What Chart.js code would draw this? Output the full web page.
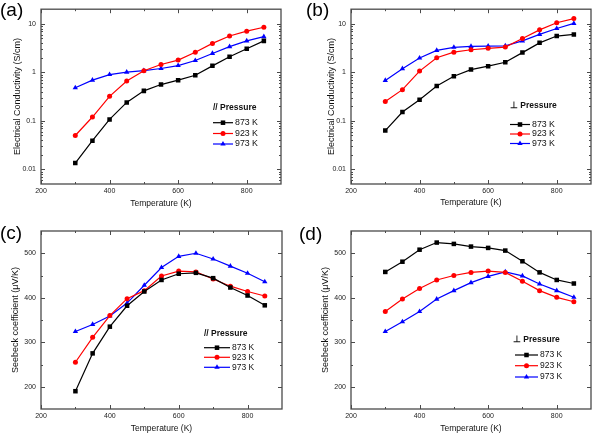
<!DOCTYPE html>
<html>
<head>
<meta charset="utf-8">
<script src="https://cdn.jsdelivr.net/npm/chart.js@4"></script>
<style>
html,body{margin:0;padding:0;background:#fff;}
#wrap{position:relative;width:595px;height:437px;overflow:hidden;background:#fff;}
canvas{position:absolute;}
.lbl{position:absolute;font-family:"Liberation Sans",Arial,sans-serif;font-size:19px;line-height:19px;color:#000;}
</style>
</head>
<body>
<div id="wrap">
  <canvas id="ca" style="left:0;top:0;width:297px;height:215px" width="297" height="215"></canvas>
  <canvas id="cb" style="left:297px;top:0;width:298px;height:215px" width="298" height="215"></canvas>
  <canvas id="cc" style="left:0;top:215px;width:297px;height:222px" width="297" height="222"></canvas>
  <canvas id="cd" style="left:297px;top:215px;width:298px;height:222px" width="298" height="222"></canvas>
  <div class="lbl" style="left:0;top:0">(a)</div>
  <div class="lbl" style="left:306px;top:0">(b)</div>
  <div class="lbl" style="left:0;top:223px">(c)</div>
  <div class="lbl" style="left:299px;top:224px">(d)</div>
</div>
<script>
// ---------------- data ----------------
const temperatures = [300, 350, 400, 450, 500, 550, 600, 650, 700, 750, 800, 850];
const seriesLabels = ['873 K', '923 K', '973 K'];

// (a) electrical conductivity, // pressure (S/cm)
const condPar873 = [0.0135, 0.039, 0.107, 0.24, 0.415, 0.56, 0.69, 0.87, 1.36, 2.09, 3.07, 4.45];
const condPar923 = [0.05, 0.12, 0.32, 0.66, 1.08, 1.45, 1.79, 2.6, 3.95, 5.6, 7.05, 8.5];
const condPar973 = [0.48, 0.69, 0.9, 1.01, 1.08, 1.2, 1.38, 1.75, 2.45, 3.38, 4.45, 5.45];

// (b) electrical conductivity, perpendicular to pressure (S/cm)
const condPerp873 = [0.063, 0.152, 0.273, 0.525, 0.83, 1.14, 1.34, 1.61, 2.55, 4.05, 5.6, 6.05];
const condPerp923 = [0.25, 0.44, 1.06, 2.0, 2.6, 2.92, 3.12, 3.32, 5.0, 7.5, 10.5, 12.8];
const condPerp973 = [0.68, 1.19, 1.97, 2.83, 3.28, 3.43, 3.48, 3.52, 4.45, 6.05, 8.0, 10.2];

// (c) Seebeck coefficient, // pressure (uV/K)
const seebPar873 = [190, 275, 335, 382, 414, 440, 454, 456, 444, 423, 405, 383];
const seebPar923 = [255, 311, 360, 398, 416, 449, 460, 458, 442, 426, 414, 404];
const seebPar973 = [324, 340, 359, 388, 428, 468, 493, 500, 487, 471, 455, 436];

// (d) Seebeck coefficient, perpendicular to pressure (uV/K)
const seebPerp873 = [458, 481, 508, 524, 521, 515, 512, 506, 482, 457, 440, 432];
const seebPerp923 = [369, 397, 421, 440, 450, 457, 460, 457, 437, 416, 401, 391];
const seebPerp973 = [324, 346, 369, 397, 416, 434, 448, 458, 449, 431, 416, 401];

// tick labels
const tempTicks = [200, 400, 600, 800];
const tempMinorTicks = [300, 500, 700];
const condTicks = [0.01, 0.1, 1, 10];
const seebTicks = [200, 300, 400, 500];
const seebMinorTicks = [250, 350, 450];

// ---------------- styles ----------------
const FONT = '"Liberation Sans", Arial, Helvetica, sans-serif';
Chart.defaults.font.family = FONT;
Chart.defaults.color = '#222';

const seriesStyle = [
  { color: '#000000', pointStyle: 'rect', radius: 3.2 },
  { color: '#ff0000', pointStyle: 'circle', radius: 2.5 },
  { color: '#0000ff', pointStyle: 'triangle', radius: 3.1 }
];

function logMinor(min, max) {
  const out = [];
  for (let d = 0.001; d <= 100; d *= 10) {
    for (let k = 2; k <= 9; k++) {
      const v = +(k * d).toPrecision(3);
      if (v > min && v < max) out.push(v);
    }
  }
  return out;
}

// frame with inward ticks on all four sides
const framePlugin = {
  id: 'frame',
  afterDraw(chart, args, o) {
    const { ctx, chartArea: { left, right, top, bottom } } = chart;
    const xs = chart.scales.x, ys = chart.scales.y;
    ctx.save();
    ctx.strokeStyle = '#4a4a4a';
    ctx.lineWidth = 1;
    const seg = (x1, y1, x2, y2) => { ctx.beginPath(); ctx.moveTo(x1, y1); ctx.lineTo(x2, y2); ctx.stroke(); };
    o.xMajor.forEach(v => { const p = Math.round(xs.getPixelForValue(v)) + 0.5; seg(p, bottom, p, bottom - 4); seg(p, top, p, top + 4); });
    o.xMinor.forEach(v => { const p = Math.round(xs.getPixelForValue(v)) + 0.5; seg(p, bottom, p, bottom - 2); seg(p, top, p, top + 2); });
    o.yMajor.forEach(v => { const p = Math.round(ys.getPixelForValue(v)) + 0.5; seg(left, p, left + 4, p); seg(right, p, right - 4, p); });
    o.yMinor.forEach(v => { const p = Math.round(ys.getPixelForValue(v)) + 0.5; seg(left, p, left + 2, p); seg(right, p, right - 2, p); });
    ctx.lineWidth = 1.3;
    ctx.strokeRect(left, top, right - left, bottom - top);
    ctx.restore();
  }
};

// legend drawn inside the plot area
const boxLegendPlugin = {
  id: 'boxLegend',
  afterDraw(chart, args, o) {
    const ctx = chart.ctx;
    ctx.save();
    ctx.textBaseline = 'middle';
    ctx.textAlign = 'left';
    ctx.fillStyle = '#111';
    ctx.font = 'bold ' + o.titleSize + 'px ' + FONT;
    ctx.fillText(o.title, o.titleX, o.titleY);
    ctx.font = o.size + 'px ' + FONT;
    chart.data.datasets.forEach((ds, i) => {
      const y = o.rowY[i];
      ctx.strokeStyle = ds.borderColor;
      ctx.lineWidth = ds.borderWidth;
      ctx.beginPath(); ctx.moveTo(o.x, y); ctx.lineTo(o.x + o.lineLen, y); ctx.stroke();
      ctx.fillStyle = ds.pointBackgroundColor;
      Chart.helpers.drawPoint(ctx, { pointStyle: ds.pointStyle, radius: ds.pointRadius, rotation: 0, borderWidth: 0 }, o.x + o.lineLen / 2, y);
      ctx.fillStyle = '#111';
      ctx.fillText(ds.label, o.x + o.lineLen + 2, y);
    });
    ctx.restore();
  }
};

function makeDatasets(series) {
  return series.map((vals, i) => ({
    label: seriesLabels[i],
    data: temperatures.map((t, j) => ({ x: t, y: vals[j] })),
    borderColor: seriesStyle[i].color,
    backgroundColor: seriesStyle[i].color,
    pointBackgroundColor: seriesStyle[i].color,
    pointBorderColor: seriesStyle[i].color,
    pointBorderWidth: 0,
    pointStyle: seriesStyle[i].pointStyle,
    pointRadius: seriesStyle[i].radius,
    borderWidth: 1.2,
    tension: 0,
    fill: false
  }));
}

function makePanel(id, p) {
  const canvas = document.getElementById(id);
  const W = canvas.width, H = canvas.height;
  const isLog = p.yType === 'logarithmic';
  new Chart(canvas, {
    type: 'line',
    data: { datasets: makeDatasets(p.series) },
    plugins: [framePlugin, boxLegendPlugin],
    options: {
      responsive: false,
      animation: false,
      devicePixelRatio: 1,
      events: [],
      layout: { padding: { left: 0, top: p.area.top, right: W - p.area.right, bottom: 0 } },
      scales: {
        x: {
          type: 'linear', min: 200, max: 900,
          afterBuildTicks: s => { s.ticks = tempTicks.map(v => ({ value: v })); },
          afterFit: s => { s.height = H - p.area.bottom; },
          grid: { display: false, drawTicks: false },
          border: { display: false },
          ticks: { padding: 3, font: { size: 7 }, color: '#222', maxRotation: 0, autoSkip: false },
          title: { display: true, text: 'Temperature (K)', font: { size: 8.5 }, color: '#111', padding: { top: 0, bottom: p.xTitlePad } }
        },
        y: {
          type: p.yType, min: p.yMin, max: p.yMax,
          afterBuildTicks: s => { s.ticks = p.yTicks.map(v => ({ value: v })); },
          afterFit: s => { s.width = p.area.left; },
          grid: { display: false, drawTicks: false },
          border: { display: false },
          ticks: { padding: 5, font: { size: 7 }, color: '#222', autoSkip: false, callback: v => String(v) },
          title: { display: true, text: p.yTitle, font: { size: 9 }, color: '#111', padding: { top: p.yTitlePad, bottom: 0 } }
        }
      },
      plugins: {
        legend: { display: false },
        tooltip: { enabled: false },
        frame: {
          xMajor: tempTicks, xMinor: tempMinorTicks,
          yMajor: p.yTicks,
          yMinor: isLog ? logMinor(p.yMin, p.yMax) : seebMinorTicks
        },
        boxLegend: p.legend
      }
    }
  });
}

const condTitle = 'Electrical Conductivity (S/cm)';
const seebTitle = 'Seebeck coefficient (\u03BCV/K)';

makePanel('ca', {
  series: [condPar873, condPar923, condPar973],
  yType: 'logarithmic', yMin: 0.005, yMax: 20, yTicks: condTicks, yTitle: condTitle,
  area: { left: 41, right: 281, top: 7, bottom: 184 },
  yTitlePad: 12.6, xTitlePad: 6.6,
  legend: { title: '// Pressure', titleX: 213, titleY: 108, x: 213, rowY: [122.7, 133.5, 144], lineLen: 20, size: 8.8, titleSize: 8.5 }
});
makePanel('cb', {
  series: [condPerp873, condPerp923, condPerp973],
  yType: 'logarithmic', yMin: 0.005, yMax: 20, yTicks: condTicks, yTitle: condTitle,
  area: { left: 54, right: 294, top: 7, bottom: 184 },
  yTitlePad: 29.6, xTitlePad: 7.6,
  legend: { title: '\u22A5 Pressure', titleX: 213, titleY: 105.5, x: 213, rowY: [124.5, 134, 143.5], lineLen: 20, size: 8.8, titleSize: 8.5 }
});
makePanel('cc', {
  series: [seebPar873, seebPar923, seebPar973],
  yType: 'linear', yMin: 150, yMax: 550, yTicks: seebTicks, yTitle: seebTitle,
  area: { left: 41, right: 282, top: 16, bottom: 194 },
  yTitlePad: 9.9, xTitlePad: 3.6,
  legend: { title: '// Pressure', titleX: 204, titleY: 119, x: 204, rowY: [132.7, 142.3, 152.3], lineLen: 26, size: 8.5, titleSize: 8.5 }
});
makePanel('cd', {
  series: [seebPerp873, seebPerp923, seebPerp973],
  yType: 'linear', yMin: 150, yMax: 550, yTicks: seebTicks, yTitle: seebTitle,
  area: { left: 54, right: 295, top: 16, bottom: 194 },
  yTitlePad: 23.4, xTitlePad: 3.6,
  legend: { title: '\u22A5 Pressure', titleX: 216, titleY: 124.3, x: 218, rowY: [140, 150.7, 162], lineLen: 23, size: 8.5, titleSize: 8.5 }
});
</script>
</body>
</html>
